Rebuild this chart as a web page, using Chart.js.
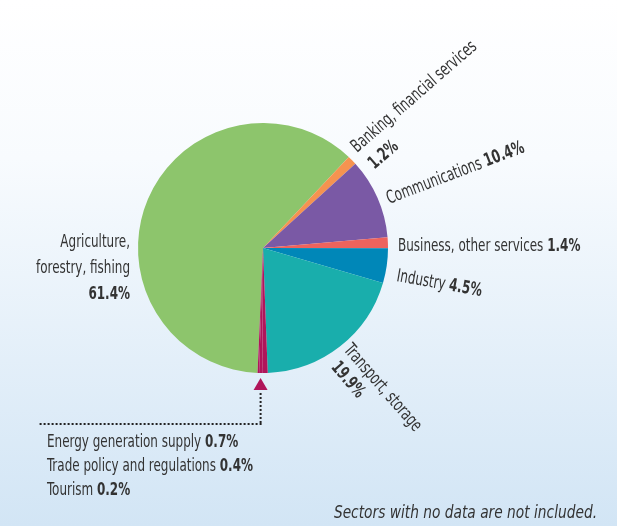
<!DOCTYPE html>
<html>
<head>
<meta charset="utf-8">
<script src="https://cdn.jsdelivr.net/npm/chart.js@4"></script>
<style>
  html, body { margin: 0; padding: 0; background: #ffffff; }
  canvas { display: block; }
</style>
</head>
<body>
<canvas id="sectorChart" width="617" height="526"></canvas>
<script>
// sectors, in clockwise order starting with agriculture
const sectors = [
  'Agriculture, forestry, fishing',
  'Banking, financial services',
  'Communications',
  'Business, other services',
  'Industry',
  'Transport, storage',
  'Energy generation supply',
  'Trade policy and regulations',
  'Tourism'
];
const shares = [61.4, 1.2, 10.4, 1.4, 4.5, 19.9, 0.7, 0.4, 0.2];
const sliceColors = ['#8dc56c', '#f59350', '#7a59a5', '#ee635d', '#0087b8', '#19aeac', '#b0155a', '#b0155a', '#b0155a'];

const FONT = "'DejaVu Sans Condensed', 'DejaVu Sans', sans-serif";
const TEXT = '#333333';
const SQUEEZE = 0.74; // condensed look, no narrow font installed

// draw "normal" then "bold" part on one line, squeezed horizontally
function drawLine(ctx, x, y, normal, bold, size, align, style, squeeze) {
  const pre = style ? style + ' ' : '';
  const sq = squeeze || SQUEEZE;
  ctx.font = pre + size + 'px ' + FONT;
  const t1 = normal ? normal + (bold ? ' ' : '') : '';
  const w1 = ctx.measureText(t1).width;
  ctx.font = 'bold ' + size + 'px ' + FONT;
  const w2 = bold ? ctx.measureText(bold).width : 0;
  let start = 0;
  if (align === 'right') start = -(w1 + w2);
  ctx.save();
  ctx.translate(x, y);
  ctx.scale(sq, 1);
  ctx.textAlign = 'left';
  ctx.textBaseline = 'alphabetic';
  ctx.fillStyle = TEXT;
  if (t1) {
    ctx.font = pre + size + 'px ' + FONT;
    ctx.fillText(t1, start, 0);
  }
  if (bold) {
    ctx.font = 'bold ' + size + 'px ' + FONT;
    ctx.fillText(bold, start + w1, 0);
  }
  ctx.restore();
}

// label placement next to the pie: anchor, rotation (deg), line gap, lines
const sliceLabels = [
  { x: 130, y: 247, rot: 0, gap: 26, align: 'right', lines: [['Agriculture,', ''], ['forestry, fishing', ''], ['', '61.4%']] },
  { x: 357, y: 153, rot: -41, gap: 24, lines: [['Banking, financial services', ''], ['', '1.2%', 2]] },
  { x: 389, y: 204, rot: -21, gap: 26, lines: [['Communications', '10.4%']] },
  { x: 398, y: 251, rot: 0, gap: 26, lines: [['Business, other services', '1.4%']] },
  { x: 396, y: 281, rot: 10, gap: 26, lines: [['Industry', '4.5%']] },
  { x: 343, y: 350, rot: 49, gap: 21, lines: [['Transport, storage', ''], ['', '19.9%', 5]] }
];

const bgPlugin = {
  id: 'bg',
  beforeDraw(chart) {
    const ctx = chart.ctx;
    const g = ctx.createLinearGradient(0, 0, 0, chart.height);
    g.addColorStop(0, '#ffffff');
    g.addColorStop(0.3, '#f8fbfe');
    g.addColorStop(1, '#d2e5f5');
    ctx.save();
    ctx.fillStyle = g;
    ctx.fillRect(0, 0, chart.width, chart.height);
    ctx.restore();
  }
};

const labelPlugin = {
  id: 'labels',
  afterDraw(chart) {
    const ctx = chart.ctx;
    ctx.save();
    sliceLabels.forEach(l => {
      ctx.save();
      ctx.translate(l.x, l.y);
      ctx.rotate(l.rot * Math.PI / 180);
      l.lines.forEach((ln, i) => {
        drawLine(ctx, ln[2] || 0, i * l.gap, ln[0], ln[1], 18, l.align);
      });
      ctx.restore();
    });

    // small slices: arrow + dotted leader
    const meta = chart.getDatasetMeta(0);
    const arc = meta.data[7];
    const mid = (arc.startAngle + arc.endAngle) / 2;
    const ax = arc.x + Math.cos(mid) * (arc.outerRadius + 5);
    const ay = arc.y + Math.sin(mid) * (arc.outerRadius + 5);
    ctx.fillStyle = '#b0155a';
    ctx.beginPath();
    ctx.moveTo(ax, ay);
    ctx.lineTo(ax - 7, ay + 12);
    ctx.lineTo(ax + 7, ay + 12);
    ctx.closePath();
    ctx.fill();

    ctx.fillStyle = '#222222';
    const top = ay + 16, corner = 424;
    for (let y = top; y <= corner; y += 4) ctx.fillRect(ax - 1, y - 1, 2, 2);
    for (let x = ax; x >= 38; x -= 4) ctx.fillRect(x - 1, corner - 1, 2, 2);

    const small = [['Energy generation supply', '0.7%'], ['Trade policy and regulations', '0.4%'], ['Tourism', '0.2%']];
    small.forEach((s, i) => drawLine(ctx, 47, 447 + i * 24, s[0], s[1], 18));

    drawLine(ctx, 597, 518, 'Sectors with no data are not included.', '', 18, 'right', 'italic', 0.85);
    ctx.restore();
  }
};

new Chart(document.getElementById('sectorChart').getContext('2d'), {
  type: 'pie',
  data: {
    labels: sectors,
    datasets: [{
      data: shares,
      backgroundColor: sliceColors,
      borderWidth: 0
    }]
  },
  options: {
    responsive: false,
    animation: false,
    devicePixelRatio: 1,
    rotation: 182.5,
    layout: { padding: { left: 138, right: 229, top: 123, bottom: 153 } },
    plugins: {
      legend: { display: false },
      tooltip: { enabled: false }
    }
  },
  plugins: [bgPlugin, labelPlugin]
});
</script>
</body>
</html>
